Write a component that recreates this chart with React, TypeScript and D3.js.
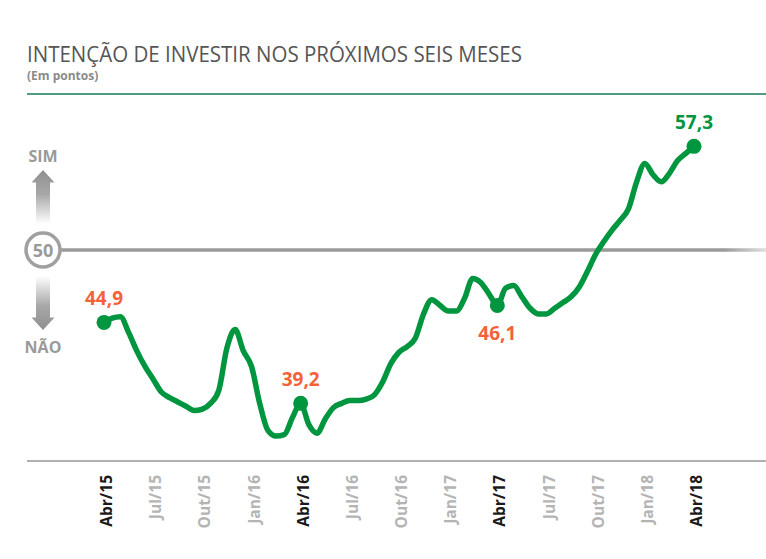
import React from "react";
import * as d3 from "d3";

// Semi-monthly readings, Apr/2015 .. Apr/2018 (index 0 = Apr/15, step = half month)
const values: number[] = [
  44.9, 45.2, 45.3, 44.2, 42.9, 41.8, 40.9, 40.0, 39.6, 39.3, 39.0, 38.7,
  38.8, 39.2, 40.1, 43.1, 44.4, 42.9, 41.8, 39.2, 37.3, 36.9, 37.0, 38.2,
  39.2, 37.7, 37.1, 38.1, 38.9, 39.2, 39.4, 39.4, 39.5, 39.8, 40.7, 42.0,
  42.8, 43.2, 43.8, 45.5, 46.5, 46.1, 45.7, 45.7, 46.6, 48.0, 47.7, 46.9,
  46.1, 47.3, 47.5, 46.7, 45.9, 45.5, 45.5, 45.9, 46.3, 46.7, 47.4, 48.5,
  49.7, 50.6, 51.4, 52.1, 52.9, 54.8, 56.1, 55.3, 54.8, 55.4, 56.3, 56.8,
  57.3,
];

const tickLabels: string[] = [
  "Abr/15", "Jul/15", "Out/15", "Jan/16", "Abr/16", "Jul/16", "Out/16",
  "Jan/17", "Abr/17", "Jul/17", "Out/17", "Jan/18", "Abr/18",
];
const tickIndex: number[] = [0, 6, 12, 18, 24, 30, 36, 42, 48, 54, 60, 66, 72];

// highlighted points: index, colour type
const highlightIndex: number[] = [0, 24, 48, 72];
const highlightTone: string[] = ["low", "low", "low", "high"];
const highlightLabelPos: string[] = ["above", "above", "below", "above"];

const GREEN = "#00963f";
const ORANGE = "#f4623a";
const FONT = "'Open Sans', 'Noto Sans', sans-serif";

export default function App() {
  const W = 766;
  const H = 559;
  const x = d3.scaleLinear().domain([0, 72]).range([104, 694]);
  const y = d3.scaleLinear().domain([50, 40]).range([250, 392]);

  const line = d3
    .line<number>()
    .x((_, i) => x(i))
    .y((d) => y(d))
    .curve(d3.curveMonotoneX);

  const fmt = (v: number) => v.toFixed(1).replace(".", ",");

  return (
    <svg
      width={W}
      height={H}
      style={{ position: "absolute", left: 0, top: 0, background: "#fff" }}
      fontFamily={FONT}
    >
      <defs>
        <linearGradient id="upArrow" x1="0" y1="0" x2="0" y2="1">
          <stop offset="0" stopColor="#8f8f8f" />
          <stop offset="0.45" stopColor="#a8a8a8" />
          <stop offset="1" stopColor="#ffffff" />
        </linearGradient>
        <linearGradient id="downArrow" x1="0" y1="1" x2="0" y2="0">
          <stop offset="0" stopColor="#8f8f8f" />
          <stop offset="0.45" stopColor="#a8a8a8" />
          <stop offset="1" stopColor="#ffffff" />
        </linearGradient>
        <linearGradient id="midLine" gradientUnits="userSpaceOnUse" x1="61" y1="0" x2="766" y2="0">
          <stop offset="0" stopColor="#9a9a9a" />
          <stop offset="0.94" stopColor="#9a9a9a" />
          <stop offset="1" stopColor="#e0e0e0" />
        </linearGradient>
      </defs>

      {/* Title */}
      <text
        x={27}
        y={62}
        fontSize={21}
        fill="#555"
        textLength={495}
        lengthAdjust="spacingAndGlyphs"
      >
        INTENÇÃO DE INVESTIR NOS PRÓXIMOS SEIS MESES
      </text>
      <text x={27} y={80} fontSize={12} fontWeight={700} fill="#8a8a8a">
        (Em pontos)
      </text>
      <line x1={27} x2={766} y1={94} y2={94} stroke="#4f9d80" strokeWidth={2} />

      {/* SIM / NÃO indicator */}
      <text x={43} y={162} fontSize={16} fontWeight={700} fill="#9a9a9a" textAnchor="middle">
        SIM
      </text>
      <path d="M43,170 L54.5,182.5 L50,182.5 L50,224 L36,224 L36,182.5 L31.5,182.5 Z" fill="url(#upArrow)" />
      <path d="M43,330 L54.5,317.5 L50,317.5 L50,276 L36,276 L36,317.5 L31.5,317.5 Z" fill="url(#downArrow)" />
      <text x={43} y={353} fontSize={16} fontWeight={700} fill="#9a9a9a" textAnchor="middle">
        NÃO
      </text>

      {/* 50 reference line */}
      <rect x={61} y={y(50) - 1.75} width={705} height={3.5} fill="url(#midLine)" />
      <circle cx={43} cy={y(50)} r={17} fill="#fff" stroke="#a0a0a0" strokeWidth={3.5} />
      <text
        x={43}
        y={y(50) + 6.5}
        fontSize={18}
        fontWeight={700}
        fill="#9a9a9a"
        textAnchor="middle"
      >
        50
      </text>

      {/* Baseline */}
      <line x1={27} x2={766} y1={461} y2={461} stroke="#b0b0b0" strokeWidth={2} />

      {/* X tick labels */}
      {tickLabels.map((t, k) => {
        const bold = t.startsWith("Abr");
        const xx = x(tickIndex[k]) + 8;
        return (
          <text
            key={t}
            transform={`translate(${xx},475) rotate(-90)`}
            textAnchor="end"
            fontSize={15.5}
            fontWeight={700}
            fill={bold ? "#1a1a1a" : "#b4b4b4"}
          >
            {t}
          </text>
        );
      })}

      {/* Series line */}
      <path
        d={line(values) || ""}
        fill="none"
        stroke={GREEN}
        strokeWidth={5.5}
        strokeLinejoin="round"
        strokeLinecap="round"
      />

      {/* Highlight points */}
      {highlightIndex.map((idx, k) => {
        const v = values[idx];
        const cx = x(idx);
        const cy = y(v);
        const color = highlightTone[k] === "high" ? GREEN : ORANGE;
        const ly = highlightLabelPos[k] === "above" ? cy - 17 : cy + 35;
        return (
          <g key={idx}>
            <circle cx={cx} cy={cy} r={7.5} fill={GREEN} />
            <text
              x={cx}
              y={ly}
              fontSize={19}
              fontWeight={700}
              fill={color}
              textAnchor="middle"
            >
              {fmt(v)}
            </text>
          </g>
        );
      })}
    </svg>
  );
}
